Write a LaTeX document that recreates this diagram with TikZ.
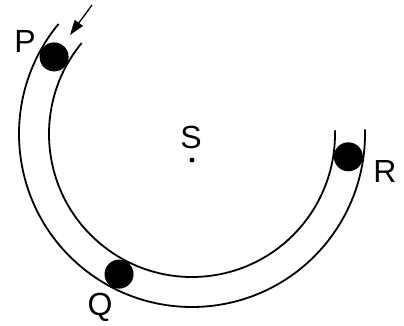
\documentclass[tikz,border=0pt]{standalone}
\usepackage{fontspec}
\setmainfont{Liberation Sans}
\usetikzlibrary{arrows.meta,calc}
\begin{document}
\begin{tikzpicture}[x=1pt,y=1pt,
  track/.style={line width=1.8pt},
  ball/.style={circle,fill=black,inner sep=0pt,minimum size=29pt},
  lbl/.style={font=\fontsize{32}{36}\selectfont,inner sep=0pt,anchor=base}]
\useasboundingbox (0,0) rectangle (404,325);
\coordinate (C) at (192,191);
\draw[track] ($(C)+(140.5:173)$) arc[start angle=140.5,end angle=361.5,radius=173];
\draw[track] ($(C)+(140.5:143)$) arc[start angle=140.5,end angle=361.5,radius=143];
\node[ball] (ballP) at ($(C)+(150.8:158)$) {};
\node[ball] (ballQ) at ($(C)+(242.5:158)$) {};
\node[ball] (ballR) at ($(C)+(351.7:158)$) {};
\node[circle,fill=black,inner sep=0pt,minimum size=5pt] (dotS) at (192,165) {};
\node[lbl] (labP) at (25,273) {P};
\node[lbl] (labQ) at (100,10) {Q};
\node[lbl] (labR) at (385,143) {R};
\node[lbl] (labS) at (191,177) {S};
\coordinate (arrS) at (92,320);
\coordinate (arrE) at (70,290);
\draw[line width=1.3pt,-{Triangle[length=15pt,width=10pt]}] (arrS) -- (arrE);
\end{tikzpicture}
\end{document}
